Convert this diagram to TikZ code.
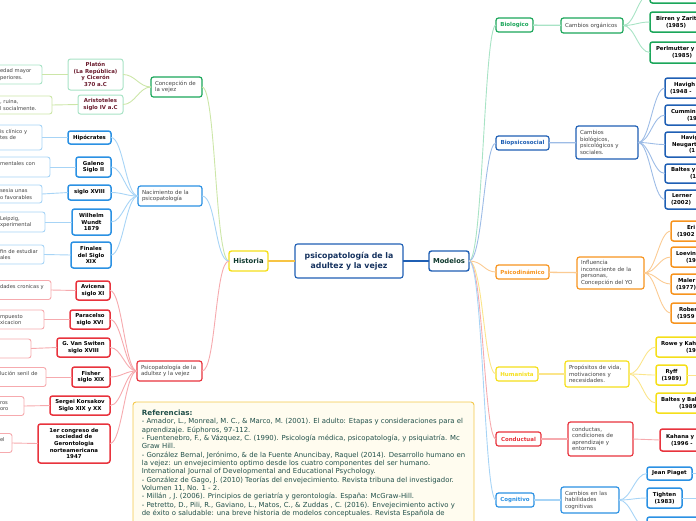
\documentclass[tikz,border=0pt]{standalone}
\usepackage{fontspec}
\setmainfont{DejaVu Sans}
\usepackage{xcolor}
\usepackage{tikz}
\usetikzlibrary{calc}

\definecolor{grn}{HTML}{1BA65A}
\definecolor{grnL}{HTML}{A8E3C5}
\definecolor{lima}{HTML}{CCE6A8}
\definecolor{blu}{HTML}{1F5FB4}
\definecolor{bluL}{HTML}{9DBCE6}
\definecolor{azu}{HTML}{2B91E3}
\definecolor{azuL}{HTML}{A7D4F6}
\definecolor{rojo}{HTML}{E8333D}
\definecolor{rojoL}{HTML}{F6AAAE}
\definecolor{nar}{HTML}{F7941E}
\definecolor{narL}{HTML}{FBCB93}
\definecolor{ama}{HTML}{F5DF1A}
\definecolor{amaL}{HTML}{FBE58A}
\definecolor{amaH}{HTML}{F7C444}
\definecolor{gris}{HTML}{444444}
\definecolor{granate}{HTML}{6A1B2D}
\definecolor{tinta}{HTML}{15325F}
\definecolor{oscuro}{HTML}{0F3A2F}
\definecolor{crema}{HTML}{FFFCEF}
\definecolor{borde}{HTML}{F3C84A}
\definecolor{verdeT}{HTML}{21504A}

\newcommand{\sangr}[1]{\hspace*{#1pt}}

\begin{document}
\begin{tikzpicture}[
    x=1pt, y=-1pt,
    >=latex,
    line width=0.9pt,
    every node/.style={inner sep=0pt, outer sep=0pt},
    caja/.style={rectangle, rounded corners=2.5pt, fill=white, inner xsep=3pt, inner ysep=2pt},
    central/.style={caja, draw=blu, line width=1.1pt, text=tinta, align=center,
      font=\fontsize{7.8}{9.6}\selectfont\bfseries, minimum width=108pt, minimum height=34pt},
    tema/.style={caja, line width=1.4pt, text=oscuro, minimum height=20pt,
      font=\fontsize{6.8}{8}\selectfont\bfseries},
    rama/.style={caja, line width=1.2pt, text=gris, align=left, inner xsep=4pt,
      minimum height=20pt, font=\fontsize{5.5}{6.5}\selectfont},
    cat/.style={caja, line width=1.2pt, minimum height=14pt,
      font=\fontsize{5.5}{6.5}\selectfont\bfseries},
    hito/.style={caja, line width=1.5pt, text=black, align=center,
      font=\fontsize{5.4}{6.7}\selectfont\bfseries},
    corte/.style={hito, anchor=west, align=left, inner xsep=0pt, text width=62pt},
    hoja/.style={caja, line width=0.9pt, text=gris, align=left, anchor=west,
      font=\fontsize{5.2}{6.3}\selectfont},
    refs/.style={caja, draw=borde, fill=crema, line width=0.9pt, rounded corners=3pt,
      text=verdeT, align=left, anchor=north west, inner xsep=4pt, inner ysep=8pt,
      minimum width=341pt, font=\fontsize{6.9}{8.35}\selectfont}
  ]
  \useasboundingbox (0,0) rectangle (696,520);
  \clip (0,0) rectangle (696,520);

  % centre
  \node[central] (psico) at (349,261) {psicopatología de la\\adultez y la vejez};
  \node[tema, draw=ama, minimum width=39pt] (hist) at (248.5,261) {Historia};
  \node[tema, draw=blu, minimum width=40pt] (mod) at (449,261) {Modelos};
  \draw[amaH, line width=1.2pt] (psico) -- (hist);
  \draw[blu, line width=1.2pt] (psico) -- (mod);

  % Historia
  \node[rama, draw=grn, text width=43pt] (conc) at (176.5,87) {Concepción de\\la vejez};
  \node[rama, draw=azu, text width=56pt] (nac) at (170,196) {Nacimiento de la\\psicopatología};
  \node[rama, draw=rojo, text width=57pt] (pat) at (169.5,371) {Psicopatología de la\\adultez y la vejez};
  \draw[lima] (conc.east) .. controls +(14,0) and +(-14,0) .. (hist.west);
  \draw[azuL] (nac.east) .. controls +(14,0) and +(-14,0) .. (hist.west);
  \draw[rojoL] (pat.east) .. controls +(14,0) and +(-14,0) .. (hist.west);

  \node[hito, draw=grnL, line width=1pt, text=granate, minimum width=55pt, minimum height=31pt] (plat) at (95.5,74.5) {Platón\\(La República)\\y Cicerón\\370 a.C};
  \node[hito, draw=grnL, line width=1pt, text=granate, minimum width=45pt, minimum height=19pt] (arist) at (100.5,104.5) {Aristoteles\\siglo IV a.C};
  \node[hoja, draw=grnL, text width=39pt, minimum height=19pt] (platH) at (-3,74.5) {edad mayor\\periores.};
  \node[hoja, draw=lima, text width=49pt, minimum height=18pt] (aristH) at (-3,105) {, ruina,\\l socialmente.};

  \node[hito, draw=azu, minimum width=43pt, minimum height=13pt] (hipo) at (89.5,137.5) {Hipócrates};
  \node[hito, draw=azu, minimum width=35pt, minimum height=20pt] (gal) at (93.5,167) {Galeno\\Siglo II};
  \node[hito, draw=azu, minimum width=43pt, minimum height=15pt] (sxviii) at (89.5,192.5) {siglo XVIII};
  \node[hito, draw=azu, minimum width=39pt, minimum height=26pt] (wundt) at (91.5,222) {Wilhelm\\Wundt\\1879};
  \node[hito, draw=azu, minimum width=40pt, minimum height=26pt] (fin) at (91,255) {Finales\\del Siglo\\XIX};
  \node[hoja, draw=azuL, text width=39pt, minimum height=25pt] (hipoH) at (-3,137.5) {is clínico y\\tes de\\\mbox{}};
  \node[hoja, draw=azuL, text width=47pt, minimum height=20pt] (galH) at (-3,167) {mentales con\\\mbox{}};
  \node[hoja, draw=azuL, text width=39pt, minimum height=18pt] (sxviiiH) at (-3,194) {sesia unas\\o favorables};
  \node[hoja, draw=azuL, text width=42pt, minimum height=20pt] (wundtH) at (-3,222) {Leipzig,\\xperimental};
  \node[hoja, draw=azuL, text width=41pt, minimum height=19pt] (finH) at (-3,254.5) {fin de estudiar\\ales};

  \node[hito, draw=rojo, minimum width=34pt, minimum height=19pt] (avi) at (93,290.5) {Avicena\\siglo XI};
  \node[hito, draw=rojo, minimum width=40pt, minimum height=19pt] (para) at (90,319.5) {Paracelso\\siglo XVI};
  \node[hito, draw=rojo, minimum width=53pt, minimum height=19pt] (vsw) at (83.5,347.5) {G. Van Switen\\siglo XVIII};
  \node[hito, draw=rojo, minimum width=38pt, minimum height=20pt] (fish) at (91,377) {Fisher\\siglo XIX};
  \node[hito, draw=rojo, minimum width=60pt, minimum height=19pt] (kors) at (80,405.5) {Sergei Korsakov\\Siglo XIX y XX};
  \node[hito, draw=rojo, minimum width=72pt, minimum height=39pt] (cong) at (74,443.5) {1er congreso de\\sociedad de\\Gerontologia\\norteamericana\\1947};
  \node[hoja, draw=rojoL, text width=48pt, minimum height=19pt] (aviH) at (-3,290) {dades cronicas y\\\mbox{}};
  \node[hoja, draw=rojoL, text width=41pt, minimum height=19pt] (paraH) at (-3,319.5) {mpuesto\\xicacion};
  \node[hoja, draw=rojoL, text width=28pt, minimum height=19pt] (vswH) at (-3,348.5) {};
  \node[hoja, draw=rojoL, text width=43pt, minimum height=19pt] (fishH) at (-3,377) {lución senil de\\\mbox{}};
  \node[hoja, draw=rojoL, text width=21pt, minimum height=19pt] (korsH) at (-3,406) {ros\\oro};
  \node[hoja, draw=rojoL, text width=9pt, minimum height=19pt] (congH) at (-3,443) {el\\\mbox{}};

  \foreach \n in {plat,arist} \draw[lima] (\n.east) .. controls +(12,0) and +(-12,0) .. (conc.west);
  \foreach \n in {hipo,gal,sxviii,wundt,fin} \draw[azuL] (\n.east) .. controls +(12,0) and +(-12,0) .. (nac.west);
  \foreach \n in {avi,para,vsw,fish,kors,cong} \draw[rojoL] (\n.east) .. controls +(12,0) and +(-12,0) .. (pat.west);
  \draw[lima] (platH.east) -- (plat.west);
  \draw[lima] (aristH.east) -- (arist.west);
  \foreach \n in {hipo,gal,sxviii,wundt,fin} \draw[azuL] (\n H.east) -- (\n.west);
  \foreach \n in {avi,para,vsw,fish,kors,cong} \draw[rojoL] (\n H.east) -- (\n.west);

  % Modelos
  \node[cat, draw=grn, text=grn, minimum width=37pt] (bio) at (514.5,25) {Biologico};
  \node[cat, draw=blu, text=blu, minimum width=53pt] (bps) at (522.5,143) {Biopsicosocial};
  \node[cat, draw=nar, text=nar, minimum width=53pt] (psd) at (522.5,272) {Psicodinámico};
  \node[cat, draw=ama, text=ama, minimum width=42pt] (hum) at (517,374) {Humanista};
  \node[cat, draw=rojo, text=rojo, minimum width=45pt] (cdt) at (518.5,439) {Conductual};
  \node[cat, draw=azu, text=azu, minimum width=38pt] (cog) at (515,500) {Cognitivo};
  \draw[grnL] (mod.east) .. controls +(14,0) and +(-12,0) .. (bio.west);
  \draw[bluL] (mod.east) .. controls +(14,0) and +(-12,0) .. (bps.west);
  \draw[narL] (mod.east) .. controls +(14,0) and +(-12,0) .. (psd.west);
  \draw[amaL] (mod.east) .. controls +(14,0) and +(-12,0) .. (hum.west);
  \draw[rojoL] (mod.east) .. controls +(14,0) and +(-12,0) .. (cdt.west);
  \draw[azuL] (mod.east) .. controls +(14,0) and +(-12,0) .. (cog.west);

  \node[rama, draw=grn, text width=54pt, minimum height=15pt] (corg) at (592,25.5) {Cambios orgánicos};
  \node[rama, draw=blu, text width=54pt, minimum height=33pt] (cbps) at (607,142.5) {Cambios\\biológicos,\\psicológicos y\\sociales.};
  \node[rama, draw=nar, text width=59pt, minimum height=32pt] (infl) at (610.5,273) {Influencia\\inconsciente de la\\personas,\\Concepción del YO};
  \node[rama, draw=ama, text width=56pt, minimum height=26pt] (prop) at (597,374) {Propósitos de vida,\\motivaciones y\\necesidades.};
  \node[rama, draw=rojo, text width=57pt, minimum height=34pt] (cond) at (600.5,439) {conductas,\\condiciones de\\aprendizaje y\\entornos};
  \node[rama, draw=azu, text width=50pt, minimum height=26pt] (habi) at (590,500) {Cambios en las\\habilidades\\cognitivas};
  \draw[grnL, line width=1.3pt] (bio) -- (corg);
  \draw[bluL, line width=1.3pt] (bps) -- (cbps);
  \draw[narL, line width=1.3pt] (psd) -- (infl);
  \draw[amaL, line width=1.3pt] (hum) -- (prop);
  \draw[rojoL, line width=1.3pt] (cdt) -- (cond);
  \draw[azuL, line width=1.3pt] (cog) -- (habi);

  % tercera columna
  \node[corte, draw=grn, minimum height=18pt, anchor=south west] (bio0) at (650,3) {};
  \node[corte, draw=grn, minimum height=20pt] (birr) at (650,22) {\sangr{6}Birren y Zarit\\\sangr{16}(1985)};
  \node[corte, draw=grn, minimum height=21pt] (perl) at (650,52.5) {\sangr{6}Perlmutter y\\\sangr{22}(1985)};
  \foreach \n in {bio0,birr,perl} \draw[grnL] (corg.east) .. controls +(12,0) and +(-12,0) .. (\n.west);

  \node[corte, draw=blu, minimum height=20pt] (hav1) at (665,88) {\sangr{9}Havigh\\\sangr{5}(1948 -};
  \node[corte, draw=blu, minimum height=20pt] (cumm) at (665,115) {\sangr{6}Cummin\\\sangr{22}(19};
  \node[corte, draw=blu, minimum height=25pt] (hav2) at (665,144.5) {\sangr{16}Havig\\\sangr{7}Neugart\\\sangr{24}(1};
  \node[corte, draw=blu, minimum height=19pt] (balt) at (665,173.5) {\sangr{6}Baltes y\\\sangr{25}(1};
  \node[corte, draw=blu, minimum height=19pt] (lern) at (665,199.5) {\sangr{7}Lerner\\\sangr{6}(2002)};
  \foreach \n in {hav1,cumm,hav2,balt,lern} \draw[bluL] (cbps.east) .. controls +(12,0) and +(-12,0) .. (\n.west);

  \node[corte, draw=nar, minimum height=20pt] (erik) at (671,231) {\sangr{16}Eri\\\sangr{6}(1902};
  \node[corte, draw=nar, minimum height=20pt] (loev) at (671,257) {\sangr{5}Loevin\\\sangr{15}(19};
  \node[corte, draw=nar, minimum height=20pt] (male) at (671,284) {\sangr{7}Maler\\\sangr{5}(1977)};
  \node[corte, draw=nar, minimum height=20pt] (robe) at (671,313) {\sangr{8}Rober\\\sangr{6}(1959};
  \foreach \n in {erik,loev,male,robe} \draw[narL] (infl.east) .. controls +(12,0) and +(-12,0) .. (\n.west);

  \node[corte, draw=ama, minimum height=20pt] (rowe) at (656,347) {\sangr{5}Rowe y Kah\\\sangr{30}(19};
  \node[hito, draw=ama, minimum width=31pt, minimum height=20pt] (ryff) at (671.5,375) {Ryff\\(1989)};
  \node[corte, draw=ama, minimum height=20pt] (bbal) at (656,403) {\sangr{5}Baltes y Bal\\\sangr{23}(1989};
  \coordinate (ryffR) at (700,375);
  \foreach \n in {rowe,ryff,bbal} \draw[amaL] (prop.east) .. controls +(12,0) and +(-12,0) .. (\n.west);
  \draw[amaL] (ryff.east) -- (ryffR);

  \node[corte, draw=rojo, minimum height=22pt] (kaha) at (660,440) {\sangr{6}Kahana y\\\sangr{11}(1996 -};
  \draw[rojoL] (cond.east) -- (kaha.west);

  \node[hito, draw=azu, minimum width=45pt, minimum height=13pt] (piag) at (669.5,473.5) {Jean Piaget};
  \node[hito, draw=azu, minimum width=35pt, minimum height=20pt] (tigh) at (664.5,498) {Tighten\\(1983)};
  \node[corte, draw=azu, minimum height=22pt, anchor=north west] (cog3) at (647,517) {};
  \coordinate (piagR) at (700,473.5);
  \coordinate (tighR) at (700,498);
  \foreach \n in {piag,tigh,cog3} \draw[azuL] (habi.east) .. controls +(12,0) and +(-12,0) .. (\n.west);
  \draw[azuL] (piag.east) -- (piagR);
  \draw[azuL] (tigh.east) -- (tighR);

  % referencias
  \node[refs] (ref) at (133,402) {{\fontsize{7.2}{8.35}\selectfont\bfseries Referencias:}\\
- Amador, L., Monreal, M. C., \& Marco, M. (2001). El adulto: Etapas y consideraciones para el\\
aprendizaje. Eúphoros, 97-112.\\
- Fuentenebro, F., \& Vázquez, C. (1990). Psicología médica, psicopatología, y psiquiatría. Mc\\
Graw Hill.\\
- González Bernal, Jerónimo, \& de la Fuente Anuncibay, Raquel (2014). Desarrollo humano en\\
la vejez: un envejecimiento optimo desde los cuatro componentes del ser humano.\\
International Journal of Developmental and Educational Psychology.\\
- González de Gago, J. (2010) Teorías del envejecimiento. Revista tribuna del investigador.\\
Volumen 11, No. 1 - 2.\\
- Millán , J. (2006). Principios de geriatría y gerontología. España: McGraw-Hill.\\
- Petretto, D., Pili, R., Gaviano, L., Matos, C., \& Zuddas , C. (2016). Envejecimiento activo y\\
de éxito o saludable: una breve historia de modelos conceptuales. Revista Española de\\
\mbox{}};
\end{tikzpicture}
\end{document}
